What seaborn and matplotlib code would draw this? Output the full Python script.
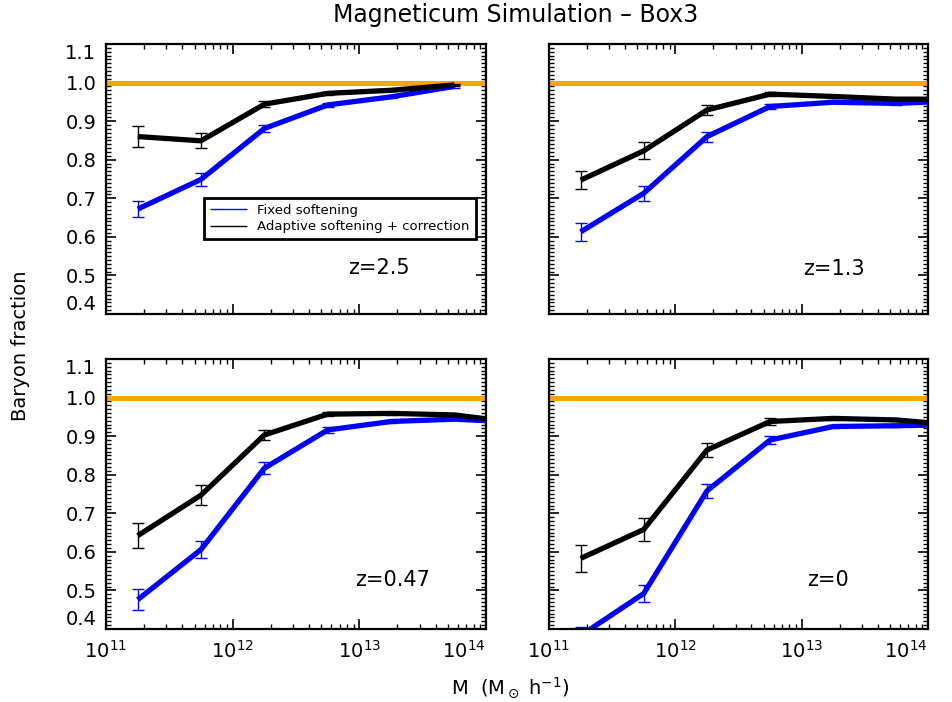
import matplotlib
matplotlib.use("Agg")
import matplotlib.pyplot as plt
import seaborn as sns
import pandas as pd
from matplotlib.ticker import MultipleLocator, LogLocator, NullFormatter

# ---------------- data ----------------
mass_bins = [1.78e11, 5.62e11, 1.78e12, 5.62e12, 1.78e13, 5.62e13, 1.78e14]

z_labels = ["z=2.5", "z=1.3", "z=0.47", "z=0"]

fixed_z25 = [0.672, 0.749, 0.881, 0.942, 0.963, 0.990]
fixed_err_z25 = [0.021, 0.016, 0.010, 0.005, 0.003, 0.003]
adapt_z25 = [0.860, 0.849, 0.944, 0.972, 0.980, 0.994]
adapt_err_z25 = [0.028, 0.019, 0.007, 0.004, 0.003, 0.003]

fixed_z13 = [0.613, 0.713, 0.860, 0.938, 0.949, 0.946, 0.953]
fixed_err_z13 = [0.024, 0.019, 0.013, 0.006, 0.003, 0.003, 0.003]
adapt_z13 = [0.747, 0.823, 0.929, 0.970, 0.964, 0.957, 0.957]
adapt_err_z13 = [0.023, 0.022, 0.012, 0.005, 0.003, 0.003, 0.003]

fixed_z047 = [0.476, 0.606, 0.817, 0.916, 0.938, 0.944, 0.936]
fixed_err_z047 = [0.027, 0.022, 0.016, 0.007, 0.003, 0.003, 0.003]
adapt_z047 = [0.642, 0.747, 0.903, 0.957, 0.959, 0.955, 0.935]
adapt_err_z047 = [0.032, 0.026, 0.012, 0.005, 0.003, 0.003, 0.003]

fixed_z0 = [0.383, 0.492, 0.758, 0.890, 0.925, 0.927, 0.930]
fixed_err_z0 = [0.022, 0.023, 0.018, 0.010, 0.004, 0.003, 0.003]
adapt_z0 = [0.583, 0.658, 0.864, 0.938, 0.946, 0.942, 0.928]
adapt_err_z0 = [0.036, 0.030, 0.017, 0.009, 0.004, 0.003, 0.003]

yticks = [0.4, 0.5, 0.6, 0.7, 0.8, 0.9, 1.0, 1.1]
ytick_labels = ["0.4", "0.5", "0.6", "0.7", "0.8", "0.9", "1.0", "1.1"]
xticks = [1e11, 1e12, 1e13, 1e14]
xtick_labels = ["$10^{11}$", "$10^{12}$", "$10^{13}$", "$10^{14}$"]

panels = [
    (fixed_z25, fixed_err_z25, adapt_z25, adapt_err_z25),
    (fixed_z13, fixed_err_z13, adapt_z13, adapt_err_z13),
    (fixed_z047, fixed_err_z047, adapt_z047, adapt_err_z047),
    (fixed_z0, fixed_err_z0, adapt_z0, adapt_err_z0),
]

# ---------------- style ----------------
sns.set_style("ticks")
plt.rcParams["font.family"] = ["DejaVu Sans"]
plt.rcParams["mathtext.fontset"] = "dejavusans"
plt.rcParams["text.color"] = "black"
plt.rcParams["axes.labelcolor"] = "black"
plt.rcParams["xtick.color"] = "black"
plt.rcParams["ytick.color"] = "black"
plt.rcParams["lines.solid_capstyle"] = "butt"
plt.rcParams["lines.solid_joinstyle"] = "miter"

W, H = 953, 702
fig = plt.figure(figsize=(W / 100, H / 100), dpi=100)
fig.patch.set_facecolor("white")

def rect(x0, x1, y0, y1):
    return [x0 / W, 1 - y1 / H, (x1 - x0) / W, (y1 - y0) / H]

rects = [
    rect(106, 486, 44, 314),
    rect(549, 928, 44, 314),
    rect(106, 486, 359, 629),
    rect(549, 928, 359, 629),
]
zpos = [(0.718, 0.17), (0.752, 0.167), (0.755, 0.18), (0.736, 0.18)]

for i, (r, (fv, fe, av, ae)) in enumerate(zip(rects, panels)):
    ax = fig.add_axes(r)
    ax.set_xscale("log")
    ax.set_facecolor("white")
    ax.axhline(1.0, color="#FFA500", lw=3.6, zorder=1)

    n_f = len(fv)
    df_f = pd.DataFrame({"M": mass_bins[:n_f], "f": fv})
    df_a = pd.DataFrame({"M": mass_bins[:len(av)], "f": av})
    sns.lineplot(data=df_f, x="M", y="f", ax=ax, color="#0000FF", lw=3.8,
                 estimator=None, sort=False, zorder=2,
                 label="Fixed softening" if i == 0 else None)
    sns.lineplot(data=df_a, x="M", y="f", ax=ax, color="black", lw=3.8,
                 estimator=None, sort=False, zorder=3,
                 label="Adaptive softening + correction" if i == 0 else None)
    ax.errorbar(mass_bins[:n_f], fv, yerr=fe, fmt="none", ecolor="#0000FF",
                elinewidth=1.0, capsize=4, capthick=1.0, zorder=4)
    ax.errorbar(mass_bins[:len(av)], av, yerr=ae, fmt="none", ecolor="black",
                elinewidth=1.0, capsize=4, capthick=1.0, zorder=4)

    ax.set_xlabel("")
    ax.set_ylabel("")
    for s in ax.spines.values():
        s.set_linewidth(1.6)
        s.set_color("black")
        s.set_visible(True)

    ax.set_yticks(yticks)
    ax.set_xticks(xticks)
    ax.yaxis.set_minor_locator(MultipleLocator(0.01))
    ax.xaxis.set_minor_locator(LogLocator(base=10, subs=range(2, 10), numticks=20))
    ax.xaxis.set_minor_formatter(NullFormatter())
    ax.tick_params(which="both", direction="in", top=True, right=True,
                   bottom=True, left=True, colors="black")
    ax.tick_params(which="major", length=7, width=1.2, labelsize=14)
    ax.tick_params(which="minor", length=3.5, width=1.0)
    ax.tick_params(axis="y", pad=7)
    ax.tick_params(axis="x", pad=8)

    if i in (0, 2):
        ax.set_yticklabels(ytick_labels)
        labs = ax.get_yticklabels()
        labs[0].set_va("bottom")
        labs[-1].set_va("top")
    else:
        ax.set_yticklabels([])
    if i in (2, 3):
        ax.set_xticklabels(xtick_labels)
        ax.get_xticklabels()[-1].set_ha("right")
    else:
        ax.set_xticklabels([])

    ax.set_xlim(1e11, 1e14)
    ax.set_ylim(0.4, 1.1)

    ax.text(zpos[i][0], zpos[i][1], z_labels[i], transform=ax.transAxes,
            ha="center", va="center", fontsize=15, color="black")

    if i == 0:
        leg = ax.legend(loc="upper left", bbox_to_anchor=(0.258, 0.43),
                        borderaxespad=0, fontsize=9.5, frameon=True, fancybox=False,
                        handlelength=2.8, borderpad=0.45, labelspacing=0.25,
                        handletextpad=0.8)
        leg.get_frame().set_edgecolor("black")
        leg.get_frame().set_linewidth(2.0)
        leg.get_frame().set_alpha(1.0)
        for h in leg.get_lines():
            h.set_linewidth(1.0)
        for t in leg.get_texts():
            t.set_color("black")
    else:
        if ax.get_legend() is not None:
            ax.get_legend().remove()

fig.text(0.541, 0.979, "Magneticum Simulation \u2013 Box3", ha="center", va="center",
         fontsize=17)
fig.text(0.021, 0.507, "Baryon fraction", rotation=90, ha="center", va="center",
         fontsize=14)
fig.text(0.535, 0.02, "M  (M$_\\odot$ h$^{-1}$)", ha="center", va="center", fontsize=14)

fig.savefig("out.png", dpi=100, facecolor="white")
